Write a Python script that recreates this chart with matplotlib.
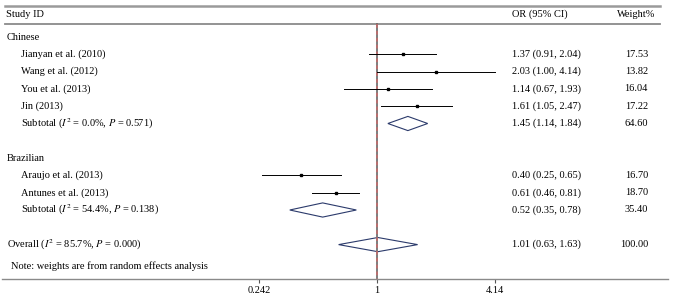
import numpy as np
import matplotlib
matplotlib.use('Agg')
import matplotlib.pyplot as plt
from matplotlib.patches import Polygon
import matplotlib.transforms as mtransforms

plt.rcParams['font.family'] = ['Liberation Serif', 'DejaVu Serif']
plt.rcParams['mathtext.fontset'] = 'stix'

# data
labels = ['Chinese', 'Jianyan et al. (2010)', 'Wang et al. (2012)', 'You et al. (2013)', 'Jin (2013)',
          'Subtotal ($I^2$ = 0.0%, $P$ = 0.571)', '',
          'Brazilian', 'Araujo et al. (2013)', 'Antunes et al. (2013)',
          'Subtotal ($I^2$ = 54.4%, $P$ = 0.138)', '',
          'Overall ($I^2$ = 85.7%, $P$ = 0.000)']
kinds = ['group', 'study', 'study', 'study', 'study', 'sub', 'blank',
         'group', 'study', 'study', 'sub', 'blank', 'overall']
or_vals = [None, 1.37, 2.03, 1.14, 1.61, 1.45, None, None, 0.40, 0.61, 0.52, None, 1.01]
lo_vals = [None, 0.91, 1.00, 0.67, 1.05, 1.14, None, None, 0.25, 0.46, 0.35, None, 0.63]
hi_vals = [None, 2.04, 4.14, 1.93, 2.47, 1.84, None, None, 0.65, 0.81, 0.78, None, 1.63]
weights = [None, '17.53', '13.82', '16.04', '17.22', '64.60', None, None,
           '16.70', '18.70', '35.40', None, '100.00']
xticks = [0.242, 1, 4.14]
xticklabels = ['0.242', '1', '4.14']
note = 'Note: weights are from random effects analysis'

W, H = 675, 304
fig = plt.figure(figsize=(W / 100, H / 100), dpi=100)
axis_px = 279
ax = fig.add_axes([0, (H - axis_px) / H, 1, axis_px / H])

# log x scale: 1 at px 377, 83.1 px per ln unit
px_per = 83.1
x0 = 377
ax.set_xscale('log')
ax.set_xlim(np.exp((0 - x0) / px_per), np.exp((W - x0) / px_per))
row0, rowh = 37, 17.3
ax.set_ylim((axis_px - row0) / rowh, -row0 / rowh)

for s in ['top', 'left', 'right']:
    ax.spines[s].set_visible(False)
ax.spines['bottom'].set_color('#8a8a8a')
ax.spines['bottom'].set_linewidth(1.0)
ax.spines['bottom'].set_bounds(np.exp((2 - x0) / px_per), np.exp((668 - x0) / px_per))
ax.set_yticks([])
ax.set_xticks(xticks)
ax.set_xticklabels(xticklabels, fontsize=7.5)
ax.xaxis.set_minor_locator(matplotlib.ticker.NullLocator())
ax.tick_params(axis='x', length=3, width=0.8, color='#555555', pad=2)

tx = mtransforms.blended_transform_factory(
    mtransforms.Affine2D().scale(1 / W, 1) + ax.transAxes, ax.transData)
hx = mtransforms.blended_transform_factory(ax.transAxes, ax.transData)

def pxx(p):
    return p / W

def row_of(p):
    return (p - row0) / rowh

fs = 7.5
# header lines
ax.plot([pxx(5), pxx(660)], [row_of(6)] * 2, color='#9a9a9a', lw=1.8, transform=hx, clip_on=False)
ax.plot([pxx(5), pxx(660)], [row_of(24)] * 2, color='#8a8a8a', lw=1.3, transform=hx, clip_on=False)
ax.text(6, row_of(14.5), 'Study ID', transform=tx, fontsize=fs, va='center', ha='left')
ax.text(512, row_of(14.5), 'OR (95% CI)', transform=tx, fontsize=fs, va='center', ha='left')
ax.text(655, row_of(14.5), 'Weight%', transform=tx, fontsize=fs, va='center', ha='right')

# reference line at 1
ax.plot([1, 1], [row_of(24), row_of(axis_px)], color='#5a5a5a', lw=1.1, clip_on=False)
ax.plot([1, 1], [row_of(24), row_of(axis_px)], color='#c86a6a', lw=1.1, ls=(0, (2.5, 2)), clip_on=False)

dh = 0.41
for i, (lab, k) in enumerate(zip(labels, kinds)):
    if k == 'blank':
        continue
    xl = 21 if k in ('study', 'sub') else 7
    ax.text(xl, i, lab, transform=tx, fontsize=fs, va='center', ha='left')
    if or_vals[i] is None:
        continue
    ax.text(512, i, '%.2f (%.2f, %.2f)' % (or_vals[i], lo_vals[i], hi_vals[i]),
            transform=tx, fontsize=fs, va='center', ha='left')
    ax.text(648, i, weights[i], transform=tx, fontsize=fs, va='center', ha='right')
    if k == 'study':
        ax.plot([lo_vals[i], hi_vals[i]], [i, i], color='black', lw=0.7)
        ax.plot(or_vals[i], i, marker='s', color='black', ms=2)
    else:
        poly = Polygon([[lo_vals[i], i], [or_vals[i], i - dh], [hi_vals[i], i], [or_vals[i], i + dh]],
                       closed=True, facecolor='white', edgecolor='#2b3a6b', lw=0.8, zorder=1)
        ax.add_patch(poly)

ax.text(11, row_of(266), note, transform=tx, fontsize=fs, va='center', ha='left')

fig.savefig('out.png', dpi=100)
